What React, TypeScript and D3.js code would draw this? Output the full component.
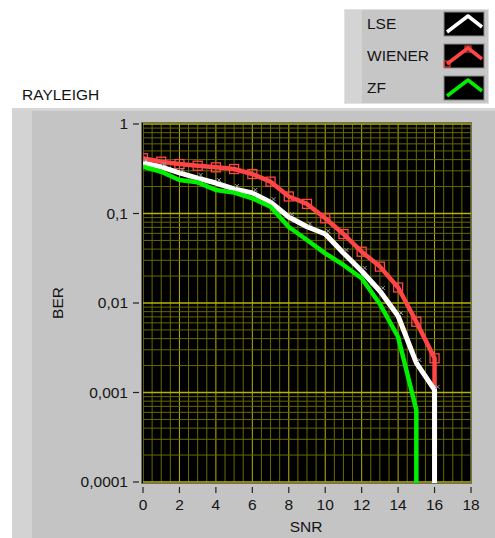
import React from "react";
import * as d3 from "d3";

// SNR steps (dB); a BER of 0 means no errors, drawn as a drop to the axis floor
const SNR = [0, 1, 2, 3, 4, 5, 6, 7, 8, 9, 10, 11, 12, 13, 14, 15, 16, 17];
const LSE = [0.367, 0.331, 0.284, 0.249, 0.219, 0.188, 0.17, 0.134, 0.0914, 0.0712, 0.059, 0.0362, 0.0228, 0.0136, 0.00716, 0.00214, 0.00107, 0];
const WIENER = [0.414, 0.379, 0.357, 0.342, 0.328, 0.314, 0.276, 0.227, 0.155, 0.128, 0.0884, 0.059, 0.0374, 0.0255, 0.0149, 0.00618, 0.00241, 0];
const ZF = [0.333, 0.293, 0.237, 0.223, 0.183, 0.171, 0.148, 0.119, 0.0707, 0.0506, 0.0359, 0.0266, 0.0189, 0.00975, 0.00417, 0.000637, 0, 0];

const X_TICKS = [0, 2, 4, 6, 8, 10, 12, 14, 16, 18];
const Y_TICKS = [1, 0.1, 0.01, 0.001, 0.0001];
const Y_LABELS = ["1", "0,1", "0,01", "0,001", "0,0001"];

const LEGEND_NAMES = ["LSE", "WIENER", "ZF"];
const LEGEND_COLORS = ["#ffffff", "#ff4545", "#00f000"];

const FONT = "'Liberation Sans', Arial, sans-serif";
const TEXT = "#141414";
const plot = { left: 143, right: 471, top: 124, bottom: 482 };

const x = d3.scaleLinear().domain([0, 18]).range([plot.left, plot.right]);
const y = d3.scaleLog().domain([1, 0.0001]).range([plot.top, plot.bottom]);

// LabVIEW style: after the last positive value the trace drops to the bottom
function tracePoints(vals: number[]): [number, number][] {
  const pts: [number, number][] = [];
  for (let i = 0; i < vals.length; i++) {
    if (vals[i] > 0) {
      pts.push([x(SNR[i]), y(vals[i])]);
    } else {
      if (i > 0 && vals[i - 1] > 0) pts.push([x(SNR[i - 1]), plot.bottom + 2]);
      break;
    }
  }
  return pts;
}

const line = d3.line();

export default function App() {
  const xMinor = d3.range(0, 18.01, 0.5);
  const yAll = y.ticks();
  const isDecade = (v: number) => Math.abs(Math.log10(v) - Math.round(Math.log10(v))) < 1e-6;

  const lse = tracePoints(LSE);
  const wiener = tracePoints(WIENER);
  const zf = tracePoints(ZF);

  return (
    <svg
      width={495}
      height={538}
      style={{ position: "absolute", left: 0, top: 0, background: "#fff" }}
      fontFamily={FONT}
    >
      {/* legend box */}
      <rect x={344} y={9} width={145} height={95} fill="#c6c6c6" />
      <rect x={344} y={9} width={18} height={95} fill="#d4d4d4" />
      <rect x={344.5} y={9.5} width={144} height={94} fill="none" stroke="#e2e2e2" />
      {LEGEND_NAMES.map((name, i) => {
        const cy = 24 + i * 32;
        const bx = 444;
        const by = cy - 12;
        const pts: [number, number][] = [
          [bx + 3, by + 20],
          [bx + 24, by + 4],
          [bx + 38, by + 15],
        ];
        return (
          <g key={name}>
            <text x={367} y={cy + 5} fontSize={15.5} fill={TEXT}>
              {name}
            </text>
            <rect x={bx} y={by} width={40} height={24} fill="#000" stroke="#8a8a8a" />
            <path d={line(pts) || ""} fill="none" stroke={LEGEND_COLORS[i]} strokeWidth={3.5} strokeLinejoin="round" />
            {i === 1 &&
              [pts[0], [bx + 24, by + 5]].map((p, k) => (
                <rect key={k} x={p[0] - 3} y={p[1] - 3} width={6} height={6} fill="none" stroke="#ff4545" strokeWidth={1} />
              ))}
          </g>
        );
      })}

      <text x={22} y={100} fontSize={15.5} fill={TEXT}>
        RAYLEIGH
      </text>

      {/* graph panel */}
      <rect x={12} y={108} width={483} height={430} fill="#c4c4c4" />
      <rect x={12} y={108} width={20} height={430} fill="#d3d3d3" />
      <rect x={12} y={108} width={483} height={3} fill="#d6d6d6" />

      {/* plot area */}
      <rect x={plot.left - 1} y={plot.top - 1} width={plot.right - plot.left + 1} height={plot.bottom - plot.top + 2} fill="#000" />
      <defs>
        <clipPath id="plotClip">
          <rect x={plot.left} y={plot.top - 1} width={plot.right - plot.left} height={plot.bottom - plot.top + 2} />
        </clipPath>
      </defs>
      <g clipPath="url(#plotClip)">
        {xMinor.map((v) => (
          <line
            key={"gx" + v}
            x1={x(v)}
            x2={x(v)}
            y1={plot.top}
            y2={plot.bottom}
            stroke={v % 2 === 0 ? "#b4b400" : "#686800"}
            strokeWidth={1}
          />
        ))}
        {yAll.map((v) => (
          <line
            key={"gy" + v}
            x1={plot.left}
            x2={plot.right}
            y1={y(v)}
            y2={y(v)}
            stroke={isDecade(v) ? "#b4b400" : "#686800"}
            strokeWidth={isDecade(v) ? 1.6 : 1}
          />
        ))}

        {/* WIENER */}
        <path d={line(wiener) || ""} fill="none" stroke="#ff4545" strokeWidth={4.5} strokeLinejoin="round" />
        {WIENER.map((v, i) =>
          v > 0 ? (
            <rect
              key={"wm" + i}
              x={x(SNR[i]) - 4.5}
              y={y(v) - 4.5}
              width={9}
              height={9}
              fill="none"
              stroke="#ff4545"
              strokeWidth={1.3}
            />
          ) : null
        )}

        {/* LSE */}
        <path d={line(lse) || ""} fill="none" stroke="#ffffff" strokeWidth={5} strokeLinejoin="round" />
        {LSE.map((v, i) => {
          if (v <= 0) return null;
          const cx = x(SNR[i]) + 3;
          const cy = y(v) - 3;
          return (
            <path
              key={"lm" + i}
              d={`M${cx - 2},${cy + 2}L${cx + 2},${cy - 2}M${cx - 2},${cy - 2}L${cx + 2},${cy + 2}`}
              stroke="#9a9a9a"
              strokeWidth={1}
            />
          );
        })}

        {/* ZF */}
        <path d={line(zf) || ""} fill="none" stroke="#00f000" strokeWidth={4.5} strokeLinejoin="round" />
      </g>
      <rect
        x={plot.left - 1.5}
        y={plot.top - 1.5}
        width={plot.right - plot.left + 2}
        height={plot.bottom - plot.top + 3}
        fill="none"
        stroke="#6e6e6e"
      />

      {/* y axis */}
      {Y_TICKS.map((v, i) => (
        <g key={"yt" + v}>
          <line x1={133} x2={139} y1={y(v)} y2={y(v)} stroke="#222" strokeWidth={1.2} />
          <text x={128} y={y(v) + 5} fontSize={15.5} textAnchor="end" fill={TEXT}>
            {Y_LABELS[i]}
          </text>
        </g>
      ))}
      <text transform="translate(63,303) rotate(-90)" fontSize={15.5} textAnchor="middle" fill={TEXT}>
        BER
      </text>

      {/* x axis */}
      {X_TICKS.map((v) => (
        <g key={"xt" + v}>
          <line x1={x(v)} x2={x(v)} y1={487} y2={493} stroke="#222" strokeWidth={1.2} />
          <text x={x(v)} y={510} fontSize={15.5} textAnchor="middle" fill={TEXT}>
            {v}
          </text>
        </g>
      ))}
      <text x={306} y={532} fontSize={15.5} textAnchor="middle" fill={TEXT}>
        SNR
      </text>
    </svg>
  );
}
